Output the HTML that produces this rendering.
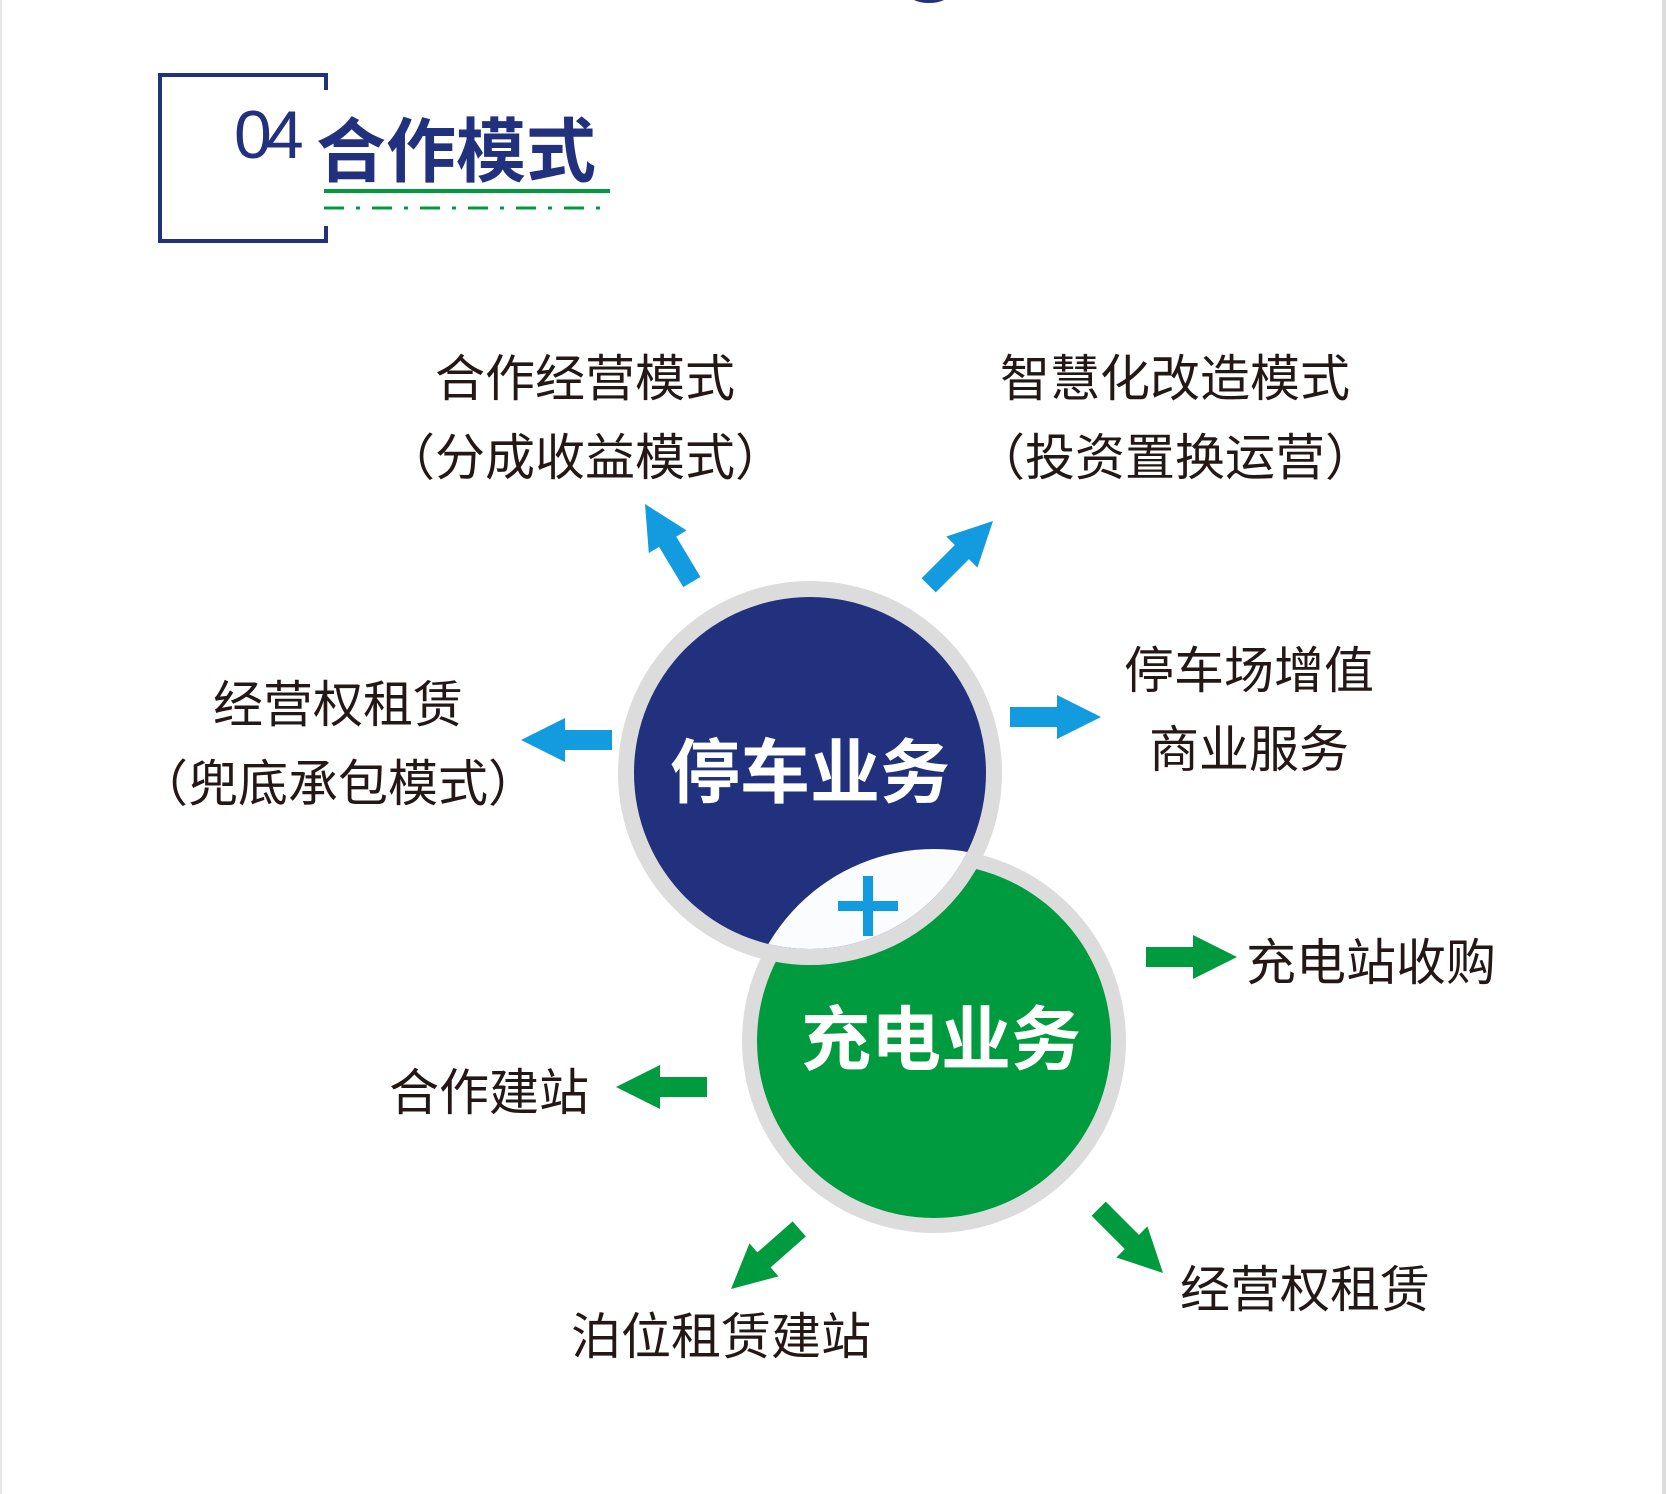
<!DOCTYPE html>
<html><head><meta charset="utf-8"><style>
html,body{margin:0;padding:0;background:#fff;}
svg{display:block;}
.l{font-family:"Liberation Sans","Noto Sans CJK SC",sans-serif;font-size:50px;fill:#231815;text-anchor:middle;}
.b{font-family:"Liberation Sans","Noto Sans CJK SC",sans-serif;font-size:70px;font-weight:bold;fill:#fff;text-anchor:middle;}
</style></head><body>
<svg width="1666" height="1494" viewBox="0 0 1666 1494" xmlns="http://www.w3.org/2000/svg">
<defs>
<polygon id="ar" points="0,0 -44,22 -44,10 -91,10 -91,-10 -44,-10 -44,-22"/>
<clipPath id="gc"><circle cx="934" cy="1041" r="192"/></clipPath>
</defs>
<rect x="0" y="0" width="2" height="1494" fill="#e6e6e6"/>
<rect x="1662" y="0" width="4" height="1494" fill="#dcdcdc"/>
<ellipse cx="929" cy="-6" rx="20" ry="9" fill="#21317d"/>
<path d="M326 90 V75 H160 V241 H326 V226" fill="none" stroke="#21317d" stroke-width="4"/>
<text x="234" y="158" font-family="Liberation Sans,sans-serif" font-size="68" fill="#21317d" letter-spacing="-6">04</text>
<text x="316" y="176" font-family="Liberation Sans,'Noto Sans CJK SC',sans-serif" font-size="70" font-weight="bold" fill="#21317d">合作模式</text>
<rect x="324" y="189" width="286" height="4" fill="#009b3e"/>
<line x1="324" y1="208" x2="610" y2="208" stroke="#009b3e" stroke-width="3" stroke-dasharray="20,12,4,12"/>
<circle cx="934" cy="1041" r="192" fill="#dcdcdc"/>
<circle cx="934" cy="1041" r="177" fill="#009b3e"/>
<circle cx="810" cy="773" r="192" fill="#dcdcdc"/>
<circle cx="810" cy="773" r="176" fill="#21317d"/>
<circle cx="810" cy="773" r="176" fill="#fafcfd" clip-path="url(#gc)"/>
<rect x="838" y="901" width="60" height="10" fill="#139be0"/>
<rect x="863" y="876" width="10" height="60" fill="#139be0"/>
<text class="b" x="810" y="797">停车业务</text>
<text class="b" x="941" y="1064">充电业务</text>
<g fill="#139be0">
<use href="#ar" transform="translate(645,504) rotate(-121)"/>
<use href="#ar" transform="translate(993,521) rotate(-45)"/>
<use href="#ar" transform="translate(521,740) rotate(180)"/>
<use href="#ar" transform="translate(1101,717)"/>
</g>
<g fill="#009b3e">
<use href="#ar" transform="translate(1237,957)"/>
<use href="#ar" transform="translate(616,1087) rotate(180)"/>
<use href="#ar" transform="translate(731,1289) rotate(138.6)"/>
<use href="#ar" transform="translate(1163,1273) rotate(45)"/>
</g>
<text class="l" x="585" y="396">合作经营模式</text>
<text class="l" x="585" y="475">（分成收益模式）</text>
<text class="l" x="1175" y="396">智慧化改造模式</text>
<text class="l" x="1175" y="475">（投资置换运营）</text>
<text class="l" x="338" y="722">经营权租赁</text>
<text class="l" x="338" y="801">（兜底承包模式）</text>
<text class="l" x="1249" y="688">停车场增值</text>
<text class="l" x="1249" y="767">商业服务</text>
<text class="l" x="1371" y="980">充电站收购</text>
<text class="l" x="489" y="1110">合作建站</text>
<text class="l" x="721" y="1354">泊位租赁建站</text>
<text class="l" x="1305" y="1307">经营权租赁</text>
</svg>
</body></html>
